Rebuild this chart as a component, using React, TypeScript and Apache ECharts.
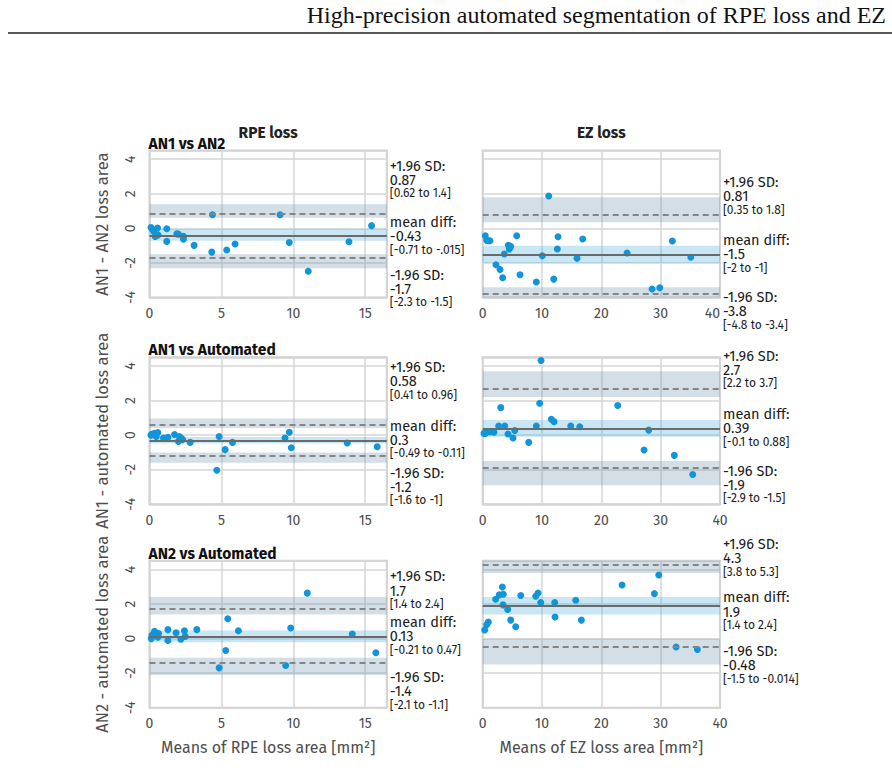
import { useEffect, useRef } from 'react';
import * as echarts from 'echarts';

// Bland–Altman agreement plots: rows are rater comparisons, columns are lesion types.
const comparisons = ['AN1 vs AN2', 'AN1 vs Automated', 'AN2 vs Automated'];
const yAxisTitles = ['AN1 - AN2 loss area', 'AN1 - automated loss area', 'AN2 - automated loss area'];
const lesionTitles = ['RPE loss', 'EZ loss'];
const xAxisTitles = ['Means of RPE loss area [mm²]', 'Means of EZ loss area [mm²]'];
const xMaxima = [16.5, 40];
const xSteps = [5, 10];
const diffMin = -4;
const diffMax = 4.5;
const diffStep = 2;
const limitHeadings = ['+1.96 SD:', 'mean diff:', '-1.96 SD:'];

// [mean of both measurements, difference]
const rpeAn1An2 = [
  [0.1, 0.05], [0.21, -0.08], [0.33, -0.2], [0.56, 0.02], [0.4, -0.46], [0.6, -0.38],
  [1.2, -0.02], [1.2, -0.75], [1.9, -0.31], [2.0, -0.33], [2.36, -0.46], [2.36, -0.62],
  [3.1, -0.98], [4.33, -1.37], [4.38, 0.79], [5.37, -1.25], [5.95, -0.9], [9.08, 0.79],
  [9.72, -0.81], [11.04, -2.48], [13.87, -0.77], [15.44, 0.16],
];
const ezAn1An2 = [
  [0.44, -0.42], [0.67, -0.69], [1.0, -0.71], [1.23, -0.71], [2.24, -2.1], [2.92, -2.37],
  [3.37, -2.85], [3.65, -1.48], [4.32, -0.98], [4.49, -1.19], [4.72, -1.04], [5.73, -0.42],
  [6.29, -2.68], [9.04, -3.1], [10.05, -1.58], [11.13, 1.87], [11.97, -2.93], [12.58, -1.19],
  [12.7, -0.48], [15.9, -1.73], [16.86, -0.61], [24.33, -1.42], [28.55, -3.5], [29.85, -3.43],
  [31.97, -0.73], [35.08, -1.67],
];
const rpeAn1Auto = [
  [0.1, 0.0], [0.17, 0.06], [0.35, 0.11], [0.47, -0.08], [0.58, 0.15], [0.97, -0.17],
  [1.28, -0.13], [1.74, 0.04], [2.08, -0.08], [2.2, -0.17], [2.01, -0.36], [2.3, -0.26],
  [2.83, -0.42], [4.68, -2.03], [4.84, -0.08], [5.26, -0.84], [5.77, -0.42], [9.42, -0.17],
  [9.72, 0.17], [9.86, -0.73], [13.75, -0.46], [15.83, -0.67],
];
const ezAn1Auto = [
  [0.22, 0.1], [0.44, 0.1], [0.78, 0.21], [1.35, 0.19], [1.9, 0.17], [2.7, 0.53],
  [3.04, 1.59], [3.71, 0.53], [4.27, 0.06], [5.11, -0.17], [5.4, 0.27], [7.76, -0.42],
  [9.04, 0.53], [9.61, 1.84], [9.83, 4.31], [11.57, 0.92], [12.02, 0.78], [14.84, 0.53],
  [16.36, 0.48], [22.76, 1.71], [27.2, -0.86], [27.99, 0.29], [32.3, -1.17], [35.4, -2.28],
];
const rpeAn2Auto = [
  [0.12, 0.0], [0.17, 0.19], [0.35, 0.42], [0.44, 0.23], [0.63, 0.29], [0.58, 0.08],
  [1.28, 0.52], [1.28, -0.11], [1.85, 0.34], [2.18, -0.04], [2.43, 0.46], [2.48, 0.13],
  [3.29, 0.52], [4.84, -1.69], [5.3, -0.69], [5.44, 1.15], [6.18, 0.46], [9.47, -1.55],
  [9.82, 0.61], [10.97, 2.63], [14.1, 0.27], [15.74, -0.82],
];
const ezAn2Auto = [
  [0.34, 0.5], [0.67, 0.8], [0.95, 0.96], [2.19, 2.28], [2.8, 2.53], [3.31, 2.99],
  [3.48, 2.57], [3.42, 1.95], [4.21, 1.69], [4.72, 1.07], [5.56, 0.69], [6.41, 2.49],
  [8.94, 2.45], [9.33, 2.64], [9.78, 2.09], [12.14, 2.09], [12.19, 1.25], [15.68, 2.22],
  [16.63, 1.07], [23.49, 3.1], [28.94, 2.6], [29.68, 3.68], [32.6, -0.48], [36.19, -0.63],
];

// upper limit of agreement, mean difference, lower limit of agreement
const rpeAn1An2Limits = [0.87, -0.43, -1.7];
const ezAn1An2Limits = [0.81, -1.5, -3.8];
const rpeAn1AutoLimits = [0.58, -0.3, -1.2];
const ezAn1AutoLimits = [2.7, 0.39, -1.9];
const rpeAn2AutoLimits = [1.7, 0.13, -1.4];
const ezAn2AutoLimits = [4.3, 1.9, -0.48];

// 95% confidence intervals of the three limits above
const rpeAn1An2Ci = [[0.62, 1.4], [-0.71, -0.015], [-2.3, -1.5]];
const ezAn1An2Ci = [[0.35, 1.8], [-2, -1], [-4.8, -3.4]];
const rpeAn1AutoCi = [[0.41, 0.96], [-0.49, -0.11], [-1.6, -1]];
const ezAn1AutoCi = [[2.2, 3.7], [-0.1, 0.88], [-2.9, -1.5]];
const rpeAn2AutoCi = [[1.4, 2.4], [-0.21, 0.47], [-2.1, -1.1]];
const ezAn2AutoCi = [[3.8, 5.3], [1.4, 2.4], [-1.5, -0.014]];

// printed value / interval pairs beside each plot
const rpeAn1An2Text = ['0.87', '[0.62 to 1.4]', '-0.43', '[-0.71 to -.015]', '-1.7', '[-2.3 to -1.5]'];
const ezAn1An2Text = ['0.81', '[0.35 to 1.8]', '-1.5', '[-2 to -1]', '-3.8', '[-4.8 to -3.4]'];
const rpeAn1AutoText = ['0.58', '[0.41 to 0.96]', '0.3', '[-0.49 to -0.11]', '-1.2', '[-1.6 to -1]'];
const ezAn1AutoText = ['2.7', '[2.2 to 3.7]', '0.39', '[-0.1 to 0.88]', '-1.9', '[-2.9 to -1.5]'];
const rpeAn2AutoText = ['1.7', '[1.4 to 2.4]', '0.13', '[-0.21 to 0.47]', '-1.4', '[-2.1 to -1.1]'];
const ezAn2AutoText = ['4.3', '[3.8 to 5.3]', '1.9', '[1.4 to 2.4]', '-0.48', '[-1.5 to -0.014]'];

const panels = [
  { points: rpeAn1An2, limits: rpeAn1An2Limits, ci: rpeAn1An2Ci, text: rpeAn1An2Text },
  { points: ezAn1An2, limits: ezAn1An2Limits, ci: ezAn1An2Ci, text: ezAn1An2Text },
  { points: rpeAn1Auto, limits: rpeAn1AutoLimits, ci: rpeAn1AutoCi, text: rpeAn1AutoText },
  { points: ezAn1Auto, limits: ezAn1AutoLimits, ci: ezAn1AutoCi, text: ezAn1AutoText },
  { points: rpeAn2Auto, limits: rpeAn2AutoLimits, ci: rpeAn2AutoCi, text: rpeAn2AutoText },
  { points: ezAn2Auto, limits: ezAn2AutoLimits, ci: ezAn2AutoCi, text: ezAn2AutoText },
];

// layout
const FONT = "'Fira Sans', Lato, 'Noto Sans', sans-serif";
const colLeft = [149.5, 482.7];
const rowTop = [150.6, 357.3, 560.8];
const plotW = 237.3;
const plotH = 147;
// vertical nudge (px) of each label block away from its line so the blocks do not collide
const labelNudge = [
  [-33.5, 0.5, 31],
  [-18, 0, 17],
  [-44, -0.5, 31],
  [-18.5, 0, 17],
  [-18.5, 0, 28.5],
  [-6, 6, 18.5],
];

const clampDiff = (v: number) => Math.max(diffMin, Math.min(diffMax, v));

export default function App() {
  const ref = useRef<HTMLDivElement>(null);

  useEffect(() => {
    if (!ref.current) return;
    const chart = echarts.init(ref.current, undefined, { renderer: 'svg' });

    const grid: any[] = [];
    const xAxis: any[] = [];
    const yAxis: any[] = [];
    const series: any[] = [];

    panels.forEach((panel, idx) => {
      const r = Math.floor(idx / 2);
      const c = idx % 2;
      grid.push({
        left: colLeft[c],
        top: rowTop[r],
        width: plotW,
        height: plotH,
        show: true,
        borderColor: '#cdcdcd',
        borderWidth: 2,
        backgroundColor: 'transparent',
      });
      xAxis.push({
        gridIndex: idx,
        type: 'value',
        min: 0,
        max: xMaxima[c],
        interval: xSteps[c],
        axisLine: { show: false },
        axisTick: { show: false },
        splitLine: { show: true, lineStyle: { color: '#d6d6d6', width: 1.5 } },
        axisLabel: {
          color: '#4d4d4d',
          fontSize: 14,
          fontFamily: FONT,
          margin: 9,
          showMaxLabel: c === 1,
          alignMaxLabel: c === 1 && r === 0 ? 'right' : 'center',
        },
        name: r === 2 ? xAxisTitles[c] : '',
        nameLocation: 'middle',
        nameGap: 32,
        nameTextStyle: { color: '#4d4d4d', fontSize: 16, fontFamily: FONT },
      });
      yAxis.push({
        gridIndex: idx,
        type: 'value',
        min: diffMin,
        max: diffMax,
        interval: diffStep,
        axisLine: { show: false },
        axisTick: { show: false },
        splitLine: { show: true, lineStyle: { color: '#d6d6d6', width: 1.5 } },
        axisLabel: {
          show: c === 0,
          rotate: 90,
          color: '#4d4d4d',
          fontSize: 14,
          fontFamily: FONT,
          margin: 12,
          showMaxLabel: false,
        },
        name: c === 0 ? yAxisTitles[r] : '',
        nameLocation: 'middle',
        nameGap: 39,
        nameRotate: 90,
        nameTextStyle: { color: '#4d4d4d', fontSize: 16.5, fontFamily: FONT },
      });

      const [upper, mean, lower] = panel.limits;
      const loaBand = 'rgba(108,145,175,0.3)';
      const meanBand = 'rgba(72,172,215,0.3)';
      series.push({
        type: 'line',
        xAxisIndex: idx,
        yAxisIndex: idx,
        data: [],
        silent: true,
        z: 1,
        markArea: {
          silent: true,
          data: panel.ci.map((ci, k) => [
            { yAxis: clampDiff(ci[0]), itemStyle: { color: k === 1 ? meanBand : loaBand } },
            { yAxis: clampDiff(ci[1]) },
          ]),
        },
        markLine: {
          silent: true,
          symbol: ['none', 'none'],
          label: { show: false },
          data: [
            { yAxis: upper, lineStyle: { color: '#858585', width: 2, type: [6, 4] } },
            { yAxis: mean, lineStyle: { color: '#6a6a6a', width: 2.2, type: 'solid' } },
            { yAxis: lower, lineStyle: { color: '#858585', width: 2, type: [6, 4] } },
          ],
        },
      });
      series.push({
        type: 'scatter',
        xAxisIndex: idx,
        yAxisIndex: idx,
        data: panel.points,
        symbolSize: 7,
        z: 3,
        itemStyle: { color: '#1195da', opacity: 1 },
      });
    });

    chart.setOption({
      animation: false,
      backgroundColor: '#ffffff',
      grid,
      xAxis,
      yAxis,
      series,
    });

    const graphic: any[] = [
      {
        type: 'text',
        right: 6,
        top: 3,
        style: {
          text: 'High-precision automated segmentation of RPE loss and EZ',
          font: "24px 'Liberation Serif', 'DejaVu Serif', serif",
          fill: '#111111',
        },
      },
      {
        type: 'line',
        shape: { x1: 8, y1: 33, x2: 892, y2: 33 },
        style: { stroke: '#222222', lineWidth: 1.5 },
      },
    ];

    lesionTitles.forEach((t, c) => {
      graphic.push({
        type: 'text',
        x: colLeft[c] + plotW / 2,
        y: 133,
        style: {
          text: t,
          font: `bold 15.5px ${FONT}`,
          fill: '#222222',
          align: 'center',
          verticalAlign: 'middle',
        },
      });
    });
    comparisons.forEach((t, r) => {
      graphic.push({
        type: 'text',
        x: colLeft[0] - 1,
        y: rowTop[r] - 7,
        style: {
          text: t,
          font: `bold 15.5px ${FONT}`,
          fill: '#111111',
          align: 'left',
          verticalAlign: 'middle',
        },
      });
    });

    panels.forEach((panel, idx) => {
      const c = idx % 2;
      const x = colLeft[c] + plotW + 3;
      panel.limits.forEach((v, k) => {
        const cy = (chart.convertToPixel({ yAxisIndex: idx }, v) as number) + labelNudge[idx][k];
        graphic.push(
          {
            type: 'text',
            x,
            y: cy - 14.3,
            style: {
              text: limitHeadings[k],
              font: `14.5px ${FONT}`,
              lineHeight: 14,
              fill: '#1a1a1a',
              verticalAlign: 'middle',
            },
          },
          {
            type: 'text',
            x,
            y: cy,
            style: {
              text: panel.text[k * 2],
              font: `14.5px ${FONT}`,
              lineHeight: 14,
              fill: '#1a1a1a',
              verticalAlign: 'middle',
            },
          },
          {
            type: 'text',
            x,
            y: cy + 13.5,
            style: {
              text: panel.text[k * 2 + 1],
              font: `12px ${FONT}`,
              lineHeight: 12,
              fill: '#1a1a1a',
              verticalAlign: 'middle',
            },
          },
        );
      });
    });

    chart.setOption({ graphic });

    return () => chart.dispose();
  }, []);

  return (
    <div
      ref={ref}
      style={{ position: 'absolute', left: 0, top: 0, width: 892, height: 778 }}
    />
  );
}
